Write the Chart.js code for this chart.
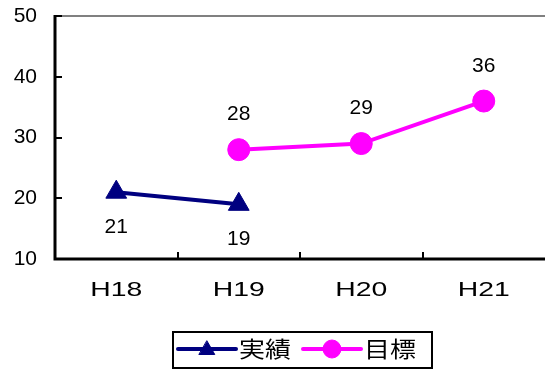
<!DOCTYPE html>
<html>
<head>
<meta charset="utf-8">
<script src="https://cdn.jsdelivr.net/npm/chart.js@4.4.1/dist/chart.umd.min.js"></script>
<style>
  html, body { margin: 0; padding: 0; background: #ffffff; }
  #wrap { width: 545px; height: 372px; position: relative; }
</style>
</head>
<body>
<div id="wrap"><canvas id="c" width="545" height="372"></canvas></div>
<script>
// Fiscal years and the two series
const categories = ['H18', 'H19', 'H20', 'H21'];
const actualValues = [21, 19, null, null];   // 実績
const targetValues = [null, 28, 29, 36];     // 目標
const seriesNames = ['実績', '目標'];
const yTicks = [10, 20, 30, 40, 50];

const NUM_FONT = '"Liberation Sans", Arial, sans-serif';
const JP_FONT = '"Noto Sans CJK JP", sans-serif';
const NAVY = '#000080';
const MAGENTA = '#ff00ff';

// Axis lines, frame top and inward tick marks
const axesPlugin = {
  id: 'axesPlugin',
  beforeDatasetsDraw(chart) {
    const { ctx, chartArea: a, scales } = chart;
    const xs = scales.x, ys = scales.y;
    ctx.save();
    ctx.lineCap = 'butt';
    // top frame line
    ctx.strokeStyle = '#808080';
    ctx.lineWidth = 2;
    ctx.beginPath();
    ctx.moveTo(a.left, a.top);
    ctx.lineTo(chart.width, a.top);
    ctx.stroke();
    // y axis and x axis
    ctx.strokeStyle = '#000000';
    ctx.lineWidth = 3;
    ctx.beginPath();
    ctx.moveTo(a.left, a.top - 1);
    ctx.lineTo(a.left, a.bottom + 1.5);
    ctx.moveTo(a.left - 1.5, a.bottom);
    ctx.lineTo(chart.width, a.bottom);
    ctx.stroke();
    // y tick marks pointing into the plot
    ctx.lineWidth = 2;
    ctx.beginPath();
    yTicks.forEach(v => {
      const y = Math.round(ys.getPixelForValue(v));
      ctx.moveTo(a.left, y);
      ctx.lineTo(a.left + 7, y);
    });
    // x tick marks on category boundaries
    for (let i = 0; i < categories.length - 1; i++) {
      const x = Math.round((xs.getPixelForValue(i) + xs.getPixelForValue(i + 1)) / 2);
      ctx.moveTo(x, a.bottom);
      ctx.lineTo(x, a.bottom - 7);
    }
    ctx.stroke();
    // category labels, drawn slightly widened
    ctx.fillStyle = '#000000';
    ctx.font = '21px ' + NUM_FONT;
    ctx.textAlign = 'center';
    ctx.textBaseline = 'middle';
    categories.forEach((c, i) => {
      const x = xs.getPixelForValue(i);
      ctx.save();
      ctx.translate(x, a.bottom + 31);
      ctx.scale(1.35, 1);
      ctx.fillText(c, 0, 0);
      ctx.restore();
    });
    ctx.restore();
  }
};

// Value labels: below for 実績, above for 目標
const valueLabelPlugin = {
  id: 'valueLabelPlugin',
  afterDatasetsDraw(chart) {
    const { ctx } = chart;
    ctx.save();
    ctx.font = '21px ' + NUM_FONT;
    ctx.fillStyle = '#000000';
    ctx.textAlign = 'center';
    ctx.textBaseline = 'middle';
    chart.data.datasets.forEach((ds, di) => {
      const meta = chart.getDatasetMeta(di);
      const off = di === 0 ? 35 : -35;
      meta.data.forEach((pt, i) => {
        const v = ds.data[i];
        if (v === null || v === undefined) return;
        ctx.fillText(String(v), pt.x, pt.y + off);
      });
    });
    ctx.restore();
  }
};

// Boxed legend with line-and-marker samples
const boxLegendPlugin = {
  id: 'boxLegendPlugin',
  afterDraw(chart) {
    const { ctx } = chart;
    const box = { x: 172, y: 331, w: 261, h: 38 };
    ctx.save();
    ctx.fillStyle = '#ffffff';
    ctx.fillRect(box.x, box.y, box.w, box.h);
    ctx.strokeStyle = '#000000';
    ctx.lineWidth = 2;
    ctx.strokeRect(box.x + 1, box.y + 1, box.w - 2, box.h - 2);
    const cy = 349;
    const starts = [178, 303];
    chart.data.datasets.forEach((ds, di) => {
      const x0 = starts[di];
      const x1 = x0 + 58;
      ctx.strokeStyle = ds.borderColor;
      ctx.lineWidth = 4;
      ctx.lineCap = 'round';
      ctx.beginPath();
      ctx.moveTo(x0, cy);
      ctx.lineTo(x1, cy);
      ctx.stroke();
      ctx.fillStyle = ds.pointBackgroundColor;
      ctx.strokeStyle = ds.pointBorderColor;
      ctx.lineWidth = 1;
      Chart.helpers.drawPoint(ctx, {
        pointStyle: ds.pointStyle,
        radius: 9,
        borderWidth: 1,
        rotation: 0
      }, (x0 + x1) / 2, cy + (di === 0 ? 1 : 0));
      ctx.fillStyle = '#000000';
      ctx.font = '22px ' + JP_FONT;
      ctx.textAlign = 'left';
      ctx.textBaseline = 'middle';
      ctx.save();
      ctx.translate(x1 + 3, cy);
      ctx.scale(1.18, 1);
      ctx.fillText(ds.label, 0, 0);
      ctx.restore();
    });
    ctx.restore();
  }
};

new Chart(document.getElementById('c'), {
  type: 'line',
  data: {
    labels: categories,
    datasets: [
      {
        label: seriesNames[0],
        data: actualValues,
        borderColor: NAVY,
        backgroundColor: NAVY,
        pointBackgroundColor: NAVY,
        pointBorderColor: NAVY,
        pointStyle: 'triangle',
        pointRadius: 12,
        pointBorderWidth: 1,
        borderWidth: 4,
        spanGaps: false
      },
      {
        label: seriesNames[1],
        data: targetValues,
        borderColor: MAGENTA,
        backgroundColor: MAGENTA,
        pointBackgroundColor: MAGENTA,
        pointBorderColor: MAGENTA,
        pointStyle: 'circle',
        pointRadius: 11,
        pointBorderWidth: 1,
        borderWidth: 4,
        spanGaps: false
      }
    ]
  },
  options: {
    responsive: false,
    animation: false,
    devicePixelRatio: 1,
    layout: { autoPadding: false, padding: { top: 16, left: 0, right: -2, bottom: 0 } },
    plugins: {
      legend: { display: false },
      tooltip: { enabled: false }
    },
    scales: {
      x: {
        type: 'category',
        offset: true,
        grid: { display: false },
        border: { display: false },
        ticks: { display: false },
        afterFit(scale) {
          scale.height = 113;
          scale.paddingLeft = 0;
          scale.paddingRight = 0;
        }
      },
      y: {
        min: 10,
        max: 50,
        grid: { display: false, drawTicks: false },
        border: { display: false },
        ticks: {
          stepSize: 10,
          color: '#000000',
          font: { family: NUM_FONT, size: 21 },
          padding: 18
        },
        afterFit(scale) {
          scale.width = 55;
          scale.paddingTop = 0;
          scale.paddingBottom = 0;
        }
      }
    }
  },
  plugins: [axesPlugin, valueLabelPlugin, boxLegendPlugin]
});
</script>
</body>
</html>
